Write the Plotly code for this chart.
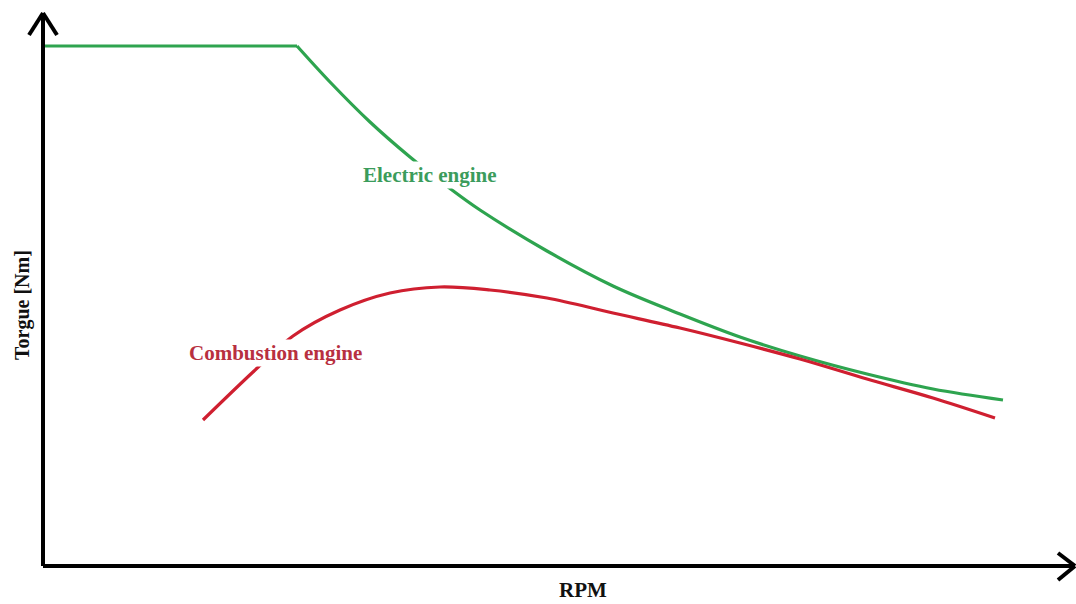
import plotly.graph_objects as go

# Data (RPM relative to axis origin, torque relative to axis origin; arbitrary units)
electric_flat_rpm = [1, 254]
electric_flat_torque = [520, 520]
electric_rpm = [254, 287, 327, 367, 409, 437, 504, 570, 637, 697, 757, 824, 890, 960]
electric_torque = [520, 484, 444, 409, 376, 356, 315, 280, 252, 229, 210, 192, 177, 166]

combustion_rpm = [160, 210, 250, 297, 347, 397, 447, 504, 570, 637, 697, 757, 824, 890, 952]
combustion_torque = [146, 194, 230, 256, 273, 279, 276, 268, 253, 238, 223, 207, 187, 168, 148]

series_names = ["Electric engine", "Combustion engine"]
x_title = "RPM"
y_title = "Torgue [Nm]"

GREEN = "#2ea44f"
RED = "#cf1f30"
GREEN_TXT = "#3b9c5c"
RED_TXT = "#b8303f"
FONT = "Liberation Serif, Times New Roman, serif"

fig = go.Figure()
fig.add_trace(go.Scatter(x=electric_flat_rpm, y=electric_flat_torque, mode="lines",
                         line=dict(color=GREEN, width=3.2),
                         name=series_names[0], hoverinfo="skip"))
fig.add_trace(go.Scatter(x=electric_rpm, y=electric_torque, mode="lines",
                         line=dict(color=GREEN, width=3.2, shape="spline", smoothing=1.0),
                         name=series_names[0], hoverinfo="skip"))
fig.add_trace(go.Scatter(x=combustion_rpm, y=combustion_torque, mode="lines",
                         line=dict(color=RED, width=3.2, shape="spline", smoothing=1.0),
                         name=series_names[1], hoverinfo="skip"))

# Axes with open arrowheads
ax = dict(color="black", width=4)
shapes = [
    dict(type="line", x0=0, y0=0, x1=0, y1=553, line=ax),
    dict(type="line", x0=-14, y0=531, x1=0, y1=553, line=ax),
    dict(type="line", x0=14, y0=531, x1=0, y1=553, line=ax),
    dict(type="line", x0=0, y0=0, x1=1032, y1=0, line=ax),
    dict(type="line", x0=1015, y0=13, x1=1032, y1=0, line=ax),
    dict(type="line", x0=1015, y0=-14, x1=1032, y1=0, line=ax),
]

annotations = [
    dict(x=387, y=391, text="<b>" + series_names[0] + "</b>", showarrow=False,
         font=dict(family=FONT, size=21, color=GREEN_TXT), bgcolor="white",
         xanchor="center", yanchor="middle"),
    dict(x=232, y=213, text="<b>" + series_names[1] + "</b>", showarrow=False,
         font=dict(family=FONT, size=21, color=RED_TXT), bgcolor="white",
         xanchor="center", yanchor="middle"),
    dict(x=540, y=-24, text="<b>" + x_title + "</b>", showarrow=False,
         font=dict(family=FONT, size=21, color="#111111"),
         xanchor="center", yanchor="middle"),
    dict(x=-21, y=261, text="<b>" + y_title + "</b>", showarrow=False, textangle=-90,
         font=dict(family=FONT, size=20, color="#111111"),
         xanchor="center", yanchor="middle"),
]

fig.update_layout(
    width=1076, height=604,
    margin=dict(l=0, r=0, t=0, b=0),
    paper_bgcolor="white", plot_bgcolor="white",
    showlegend=False,
    xaxis=dict(range=[-43, 1033], visible=False, fixedrange=True),
    yaxis=dict(range=[-38, 566], visible=False, fixedrange=True),
    shapes=shapes,
    annotations=annotations,
)

fig.write_html("out.html", config={"displayModeBar": False},
               post_script="document.body.style.margin='0';document.body.style.overflow='hidden';")
